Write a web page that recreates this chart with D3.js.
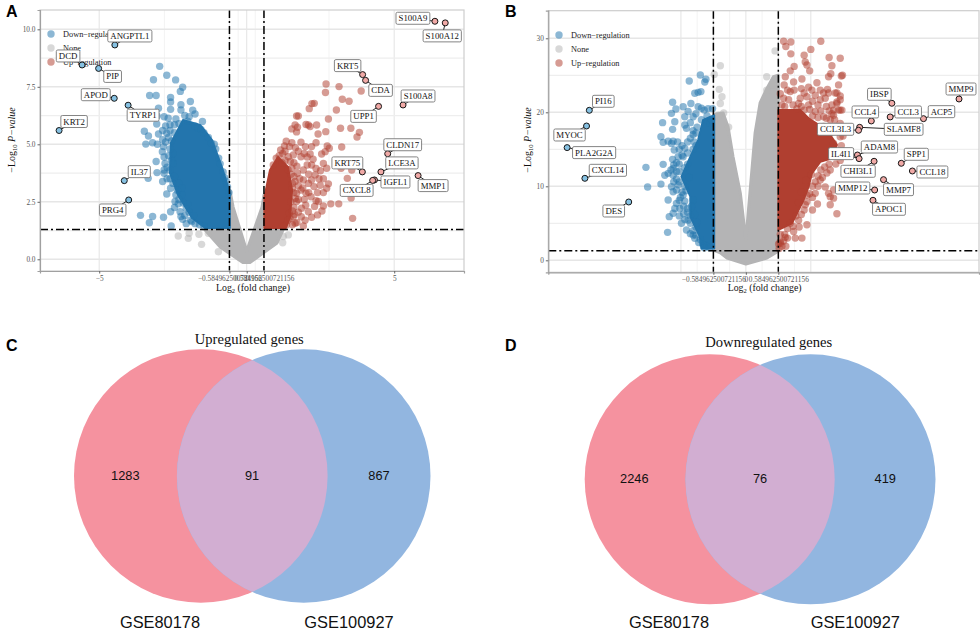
<!DOCTYPE html>
<html>

<head>
    <title>Volcano and Venn</title>
    <script src="https://cdn.jsdelivr.net/npm/d3@7"></script>
    <style>
        body { margin: 0; background: #fff; }
        svg { display: block; }
    </style>
</head>

<body>
    <svg width="980" height="630" id="mainsvg"></svg>
    <script>
        // panel A: [log2 fold change, -log10 p]
        const aDown = [[-2.95,8.39],[-3.16,7.81],[-2.71,8.0],[-2.41,7.8],[-2.17,7.48],[-2.25,7.3],[-3.29,7.12],[-3.07,7.12],[-2.58,7.04],[-2.58,6.84],[-1.91,6.86],[-2.23,6.72],[-2.58,6.52],[-2.23,6.49],[-1.83,6.48],[-1.75,6.32],[-2.99,6.57],[-3.04,6.23],[-2.8,6.2],[-2.66,6.13],[-3.05,5.88],[-2.75,5.8],[-1.5,5.99],[-3.47,5.57],[-3.33,5.36],[-2.99,5.45],[-2.71,5.48],[-3.42,5.01],[-3.19,5.07],[-3.03,5.0],[-2.82,4.9],[-2.86,4.68],[-3.07,4.25],[-2.77,4.17],[-3.04,3.77],[-2.8,3.88],[-2.8,3.74],[-3.34,3.52],[-2.85,3.38],[-2.6,3.88],[-2.49,4.17],[-2.58,3.09],[-2.71,2.84],[-2.43,2.51],[-2.2,2.8],[-2.32,2.41],[-3.6,1.91],[-3.19,1.86],[-3.3,1.59],[-2.82,1.83],[-2.58,2.07],[-2.56,1.45],[-2.23,1.86],[-2.17,1.74],[-1.86,1.64],[-2.26,2.07],[-2.3,5.9],[-2.0,6.0],[-1.75,5.8],[-1.45,5.5],[-1.3,5.3],[-1.05,4.8],[-0.95,4.4],[-0.8,3.8],[-0.7,3.4],[-2.6,5.6],[-2.75,5.1],[-2.65,4.5],[-2.7,4.0],[-2.5,3.3],[-2.3,2.6],[-2.05,2.2],[-1.9,1.7],[-1.6,1.5]];
        const aDownFringe = [[-2.85,5.6],[-2.6,5.85],[-2.45,5.85],[-2.45,5.5],[-2.65,5.3],[-2.85,5.2],[-2.8,4.45],[-2.6,4.8],[-2.7,3.5],[-2.6,3.5],[-2.35,3.0],[-2.4,2.8],[-2.45,2.25],[-2.1,1.9],[-2.0,2.4],[-2.05,1.55],[-1.75,1.55],[-1.45,1.45],[-2.4,6.1],[-2.1,6.25],[-1.95,6.2],[-1.65,5.7],[-1.55,5.65],[-1.2,5.05],[-1.1,5.0],[-2.55,5.15],[-2.5,4.6],[-2.55,4.3],[-2.45,3.6],[-2.3,3.3],[-2.2,3.1],[-2.15,2.45],[-1.95,2.05],[-1.8,1.9],[-0.9,4.15],[-0.75,3.55],[-0.65,3.15],[-0.6,2.9]];
        const aUp = [[2.69,7.62],[2.67,7.25],[3.13,7.51],[3.88,7.32],[3.24,6.96],[3.47,6.87],[2.29,6.78],[2.21,6.77],[2.12,6.55],[3.04,6.49],[1.75,6.23],[1.69,6.23],[2.77,6.1],[2.09,5.84],[2.01,5.86],[2.37,5.84],[1.64,5.84],[1.53,5.67],[1.72,5.74],[1.69,5.54],[2.15,5.77],[2.68,5.55],[2.42,5.45],[3.18,5.7],[3.53,5.7],[3.82,5.52],[3.74,5.32],[1.34,5.13],[1.28,4.93],[1.53,5.07],[1.45,4.9],[1.84,5.09],[2.35,5.07],[2.2,4.9],[1.99,4.9],[2.73,4.93],[2.8,4.83],[3.22,4.88],[2.15,4.58],[2.54,4.58],[2.66,4.68],[1.84,4.46],[1.58,4.54],[1.41,4.46],[2.6,4.17],[2.2,4.1],[1.92,3.88],[2.71,3.96],[3.2,3.96],[3.56,3.88],[1.72,3.74],[2.32,3.67],[3.41,3.52],[1.92,3.45],[2.49,3.22],[2.77,3.28],[2.28,3.16],[2.09,3.3],[2.71,3.09],[3.54,2.67],[1.84,3.01],[2.01,2.87],[2.43,2.51],[2.85,2.41],[3.12,2.41],[2.6,2.32],[1.69,2.51],[1.86,2.22],[2.09,2.07],[2.2,1.83],[2.4,1.93],[1.58,1.86],[3.59,1.78],[1.92,1.45],[1.64,1.57],[1.47,1.78],[2.18,2.72],[1.69,2.87],[1.64,3.38],[1.53,3.96],[0.9,4.1],[1.1,4.5],[1.3,4.3],[1.5,3.7],[1.55,3.1],[1.5,2.5],[1.45,2.0],[1.35,1.5]];
        const aUpFringe = [[1.6,4.2],[1.7,4.05],[1.8,3.5],[1.55,3.3],[1.75,3.2],[1.9,3.1],[1.6,2.9],[2.1,2.9],[1.75,2.6],[1.95,2.6],[1.6,2.25],[1.75,2.05],[1.85,1.85],[1.98,1.7],[1.62,1.95],[1.7,1.6],[1.55,1.5],[1.48,4.25],[1.65,4.85],[1.75,4.7],[1.95,4.6],[2.05,4.45],[2.05,4.1],[2.25,4.35],[2.35,3.95],[2.5,3.85],[2.1,3.7],[2.2,3.45],[2.45,3.5],[2.6,3.5],[2.4,2.9],[2.6,2.9],[2.3,2.3],[2.0,2.35],[2.35,2.55],[1.3,4.7],[1.15,4.75],[1.22,4.6],[1.0,4.4],[2.55,2.1],[1.2,4.2],[1.4,3.9],[1.6,3.6],[1.65,2.65],[1.55,2.1],[1.4,1.7],[1.25,1.45]];
        const aNone = [[-2.32,1.01],[-1.98,0.91],[-1.95,1.13],[-1.53,0.65],[-1.62,1.09],[-0.96,0.33],[-1.3,1.13],[1.41,1.06],[1.22,0.72],[1.24,0.99]];
        // dense cores of panel A, outlines
        const aDownCore = [[-2.16,6.06],[-1.58,5.84],[-1.18,5.19],[-0.84,4.01],[-0.57,2.88],[-0.57,1.36],[-1.41,1.36],[-1.85,1.8],[-2.33,2.8],[-2.6,3.75],[-2.57,5.06]];
        const aUpCore = [[0.6,2.71],[0.79,3.88],[1.06,4.45],[1.4,4.01],[1.54,3.01],[1.47,1.84],[1.33,1.36],[0.6,1.36]];
        const aNoneCore = [[-0.57,3.0],[-0.46,2.27],[0,0.36],[0.52,2.27],[0.585,2.8],[0.585,1.3],[1.23,1.27],[1.03,0.71],[0.11,-0.14],[-0.13,-0.14],[-0.9,0.53],[-1.41,1.27]];
        const aGenes = ['ANGPTL1','DCD','PIP','APOD','TYRP1','KRT2','IL37','PRG4','S100A9','S100A12','KRT5','CDA','S100A8','UPP1','CLDN17','LCE3A','KRT75','MMP1','IGFL1','CXCL8'];
        const aGeneFc = [-4.47,-5.58,-5.02,-4.49,-4.02,-6.36,-4.15,-4.0,6.38,6.73,3.93,4.03,5.3,4.47,4.78,4.55,3.92,5.81,4.33,4.27];
        const aGeneP = [9.32,8.45,8.3,7.0,6.7,5.6,3.42,2.58,10.35,10.28,8.03,7.78,6.71,6.65,4.59,3.8,3.8,3.64,3.45,3.43];
        const aXTicks = [-5,-0.584962500721156,0,0.584962500721156,5];
        const aYTicks = [0,2.5,5,7.5,10];

        // panel B
        const bDown = [[-0.82,25.05],[-1.02,24.23],[-0.72,24.47],[-0.74,24.1],[-0.92,22.57],[-0.86,22.7],[-0.81,22.8],[-1.32,21.35],[-1.13,20.76],[-1.26,20.45],[-0.99,21.2],[-1.34,19.86],[-0.86,20.76],[-0.8,20.54],[-1.04,20.1],[-1.1,19.4],[-0.95,19.4],[-1.5,18.6],[-1.28,18.73],[-1.32,17.7],[-1.1,18.28],[-1.07,17.83],[-1.53,16.7],[-1.49,15.94],[-1.4,16.1],[-1.31,16.1],[-1.23,16.0],[-1.34,15.8],[-1.29,14.9],[-1.1,15.13],[-1.13,14.0],[-1.32,13.64],[-1.22,14],[-1.49,12.97],[-1.31,12.43],[-1.8,12.56],[-1.4,11.75],[-1.46,11.5],[-1.31,11.5],[-1.53,10.3],[-1.77,9.9],[-1.34,9.95],[-1.31,9.27],[-1.4,8.15],[-1.13,8.82],[-1.25,7.7],[-1.28,7.0],[-1.19,7.0],[-1.31,6.35],[-1.38,5.9],[-1.16,5.0],[-1.04,5.44],[-1.07,4.1],[-1.41,3.78],[-0.95,3.42],[-0.92,2.97],[-0.74,2.07],[-0.95,17.5],[-0.9,15.5],[-1.05,13],[-1.2,12],[-1.1,10],[-1.15,9.2],[-1.05,7],[-1.0,6],[-0.9,4.5],[-0.82,2.8]];
        const bDownFringe = [[-0.7,19.5],[-0.75,20.3],[-0.65,18.5],[-0.8,19],[-0.88,18],[-0.95,17],[-1.0,16.5],[-1.05,16],[-1.15,15.5],[-1.2,15],[-0.95,15],[-1.05,14.5],[-1.15,14.2],[-1.25,13.2],[-1.2,13],[-1.1,12.5],[-1.3,12.9],[-1.25,12],[-1.35,12.2],[-1.25,11],[-1.2,10.6],[-1.22,10.2],[-1.3,10.6],[-1.25,9.5],[-1.18,8.5],[-1.1,8],[-1.2,8.1],[-1.12,7.3],[-1.05,6.5],[-1.12,6.3],[-1.2,6],[-1.1,5.5],[-1.0,5],[-0.95,4],[-1.0,3.6],[-0.9,3.4],[-0.85,2.4],[-0.78,2.2],[-0.7,1.9],[-0.75,1.7],[-0.65,1.7],[-0.62,19.0],[-0.6,20.5],[-0.68,20.5],[-0.9,19.8],[-1.0,18.6],[-0.9,17.2],[-0.93,16],[-1.02,11.2],[-1.08,9.4],[-0.95,8.2],[-0.98,7.3],[-0.92,6.2],[-0.88,5.1]];
        const bUp = [[0.68,29.6],[0.81,29.5],[1.35,29.6],[0.72,28.9],[0.81,27.9],[1.17,28.5],[1.5,27.4],[1.7,27.3],[1.05,27.7],[1.07,26.8],[1.1,26.4],[0.87,26.2],[0.8,25.6],[1.15,25.6],[1.55,26.3],[1.53,25.2],[1.49,24.8],[1.72,24.9],[0.86,24.1],[1.01,24.5],[0.71,24.8],[0.69,23.7],[0.87,23],[1.13,23.4],[1.19,23],[1.34,23],[1.47,23.1],[1.67,23.7],[1.4,22.6],[1.61,22.6],[1.7,22.2],[1.13,21],[1.25,20.1],[1.43,21.9],[1.55,21],[1.67,20.3],[1.73,20.3],[1.64,21.4],[0.98,21.9],[0.8,22.8],[0.68,21.9],[0.92,20.5],[0.65,21],[0.77,21.7],[1.1,22.1],[1.34,21.7],[1.49,22.6],[1.58,15.8],[1.52,17.2],[1.4,18.1],[1.52,12.2],[1.46,11.8],[1.49,9.05],[1.58,8.4],[1.52,7.5],[1.64,6.3],[1.29,7.6],[1.2,6.8],[1.43,9.9],[1.25,9.05],[1.34,10.85],[1.1,7.9],[1.07,7.5],[0.95,5.4],[1.1,4.8],[0.96,4.5],[0.86,3.9],[0.71,3.1],[1.01,3],[0.8,5],[0.89,3],[0.59,2.2],[0.62,2.3],[1.64,17.6],[1.7,16.7],[1.52,8.6],[1.58,9.5],[1.74,25.0],[1.64,22.6],[1.7,21.7],[1.64,21.2],[1.7,20.3],[1.58,20.3],[1.58,19.6],[1.4,19.4],[1.52,19],[0.62,3.5],[0.7,3.5],[0.75,4.3],[0.62,2.5],[0.68,2.6],[0.6,1.6],[0.72,1.9]];
        const bUpFringe = [[0.62,22.5],[0.75,23],[0.7,20.8],[0.85,21],[0.95,21.2],[1.0,20.8],[1.05,20.3],[1.2,21.5],[1.25,22.3],[1.3,21],[1.35,20.2],[1.45,20.8],[1.5,20.2],[1.6,19],[1.45,19.2],[1.3,19.3],[1.2,19.5],[1.7,18.5],[1.65,18],[1.75,16.8],[1.72,15.5],[1.68,14.5],[1.6,14],[1.7,13.5],[1.62,13],[1.5,13],[1.42,12.6],[1.35,12.2],[1.3,11.4],[1.38,11.2],[1.25,10.6],[1.2,10],[1.3,10],[1.15,9],[1.2,8.5],[1.1,8.8],[1.05,6.8],[1,6.2],[0.9,6],[0.85,4.6],[0.75,3],[0.65,1.9],[1.0,23.2],[1.28,24],[1.05,22.6],[1.55,19.8],[1.15,20.4],[0.95,7.8],[1.0,9.2],[1.08,10.8],[1.18,11.6]];
        const bNone = [[-0.46,26.3],[-0.57,25.1],[-0.48,23.1],[-0.43,22.1],[-0.46,21.2],[-0.4,19.9],[-0.49,19.6],[-0.31,18],[0.526,28.3],[0.376,24.8],[0.49,23.7],[0.376,23]];
        const bDownCore = [[-0.57,19.6],[-0.77,18.97],[-0.86,16.25],[-1.0,14.0],[-1.16,11.3],[-1.0,8.6],[-1.0,5.9],[-0.83,3.2],[-0.8,1.6],[-0.57,1.6]];
        const bUpCore = [[0.586,20.3],[0.98,20.3],[1.13,19.2],[1.46,17.6],[1.64,15.6],[1.55,13.8],[1.34,13.3],[1.19,11.75],[1.13,9.95],[1.04,8.15],[0.95,6.8],[0.83,5],[0.586,4.1]];
        const bNoneCore = [[-0.58,19.7],[-0.41,19.9],[-0.32,18.0],[-0.23,13.96],[-0.1,9.1],[0,2.74],[0.166,17.2],[0.256,21.26],[0.377,23.2],[0.495,24.8],[0.585,25],[0.585,1.4],[0.56,1.12],[0.38,0.31],[0,-0.5],[-0.34,0.31],[-0.46,1],[-0.58,1.39]];
        const bGenes = ['PI16','MYOC','PLA2G2A','CXCL14','DES','MMP9','IBSP','CCL3','ACP5','CCL4','SLAMF8','CCL3L3','ADAM8','IL4I1','SPP1','CHI3L1','CCL18','MMP7','MMP12','APOC1'];
        const bGeneFc = [-2.82,-2.87,-3.22,-2.9,-2.11,3.84,2.63,2.6,3.2,2.26,2.05,2.03,2.01,2.04,2.8,2.31,3.0,2.48,2.32,2.29];
        const bGeneP = [20.27,18.15,15.23,11.08,7.88,21.8,21.22,19.37,19.14,18.83,17.97,17.57,14.23,13.74,13.11,13.38,12.07,10.9,9.5,8.11];
        const bXTicks = [-0.584962500721156,0,0.584962500721156];
        const bYTicks = [0,10,20,30];

        const legendItems = ['Down\u2212regulation','None','Up\u2212regulation'];
        const pCut = 1.3;
        const fcCut = 0.584962500721156;

        // venn counts: left only, both, right only
        const vennC = [1283,91,867];
        const vennD = [2246,76,419];
        const vennSets = ['GSE80178','GSE100927'];

        // label offsets from the point, in px (layout only)
        const aNudge = [[15,-9],[-14,-9],[14,8],[-18.5,-3.6],[15,10],[15,-9],[15,-9],[-16,10],[-22,-3],[-3,13],[-15,-9],[15,10],[15,-9],[-15,10],[15,-9],[21,-9],[-15,-9],[15,10],[21,2],[-16,10]];
        const bNudge = [[14,-9],[-17,9],[27,5],[23,-8],[-15,9],[2,-10],[-12.5,-9],[18,-5],[18,-7],[-6,-9],[44,2],[-23,-1],[22,-8],[-18,-5],[15,-9],[-16,10],[20,1],[15,10],[-22,-2],[16,9]];

        const serif = '"Liberation Serif", serif';
        const sans = '"Liberation Sans", sans-serif';
        const colors = { down: '#2375ad', none: '#b4b4b5', up: '#b03f30' };
        const soft = { down: '#86c1e2', up: '#f0a9a6' };
        const svg = d3.select('svg');

        function drawVolcano(o) {
            const g = svg.append('g');
            const x = d3.scaleLinear().domain(o.xDomain).range([o.box.left, o.box.right]);
            const y = d3.scaleLinear().domain(o.yDomain).range([o.box.bottom, o.box.top]);
            const { left, right, top, bottom } = o.box;

            g.selectAll('.minorx').data(o.xMinor).join('line').attr('x1', x).attr('x2', x)
                .attr('y1', top).attr('y2', bottom).attr('stroke', '#eeeeee').attr('stroke-width', 0.7);
            g.selectAll('.majorx').data(o.xMajor).join('line').attr('x1', x).attr('x2', x)
                .attr('y1', top).attr('y2', bottom).attr('stroke', '#e6e6e6').attr('stroke-width', 1.1);
            g.selectAll('.minory').data(o.yMinor).join('line').attr('y1', y).attr('y2', y)
                .attr('x1', left).attr('x2', right).attr('stroke', '#eeeeee').attr('stroke-width', 1.2);
            g.selectAll('.majory').data(o.yTicks).join('line').attr('y1', y).attr('y2', y)
                .attr('x1', left).attr('x2', right).attr('stroke', '#e6e6e6').attr('stroke-width', 1.4);

            const blob = d3.line().x(d => x(d[0])).y(d => y(d[1])).curve(d3.curveLinearClosed);
            const scatter = (pts, c) => g.append('g').selectAll('circle').data(pts).join('circle')
                .attr('cx', d => x(d[0])).attr('cy', d => y(d[1])).attr('r', o.r)
                .attr('fill', c).attr('opacity', 0.52);

            g.append('path').attr('d', blob(o.noneCore)).attr('fill', colors.none)
                .attr('stroke', colors.none).attr('stroke-width', 3).attr('stroke-linejoin', 'round');
            scatter(o.none, colors.none);
            g.append('path').attr('d', blob(o.downCore)).attr('fill', colors.down)
                .attr('stroke', colors.down).attr('stroke-width', 2).attr('stroke-linejoin', 'round');
            scatter(o.down, colors.down);
            g.append('path').attr('d', blob(o.upCore)).attr('fill', colors.up)
                .attr('stroke', colors.up).attr('stroke-width', 2).attr('stroke-linejoin', 'round');
            scatter(o.up, colors.up);

            // threshold lines
            const dash = '8 3 2 3';
            g.append('line').attr('x1', left).attr('x2', right).attr('y1', y(pCut)).attr('y2', y(pCut))
                .attr('stroke', '#000').attr('stroke-width', 1.5).attr('stroke-dasharray', dash);
            [-fcCut, fcCut].forEach(v => g.append('line').attr('x1', x(v)).attr('x2', x(v))
                .attr('y1', top).attr('y2', bottom)
                .attr('stroke', '#000').attr('stroke-width', 1.5).attr('stroke-dasharray', dash));

            // frame and axes
            g.append('rect').attr('x', left).attr('y', top).attr('width', right - left).attr('height', bottom - top)
                .attr('fill', 'none').attr('stroke', '#cdcdcd').attr('stroke-width', 1.2);
            const fmt = d => String(d).replace('-', '\u2212');
            const xAxis = g.append('g').attr('transform', `translate(0,${bottom})`)
                .call(d3.axisBottom(x).tickValues(o.xTicks).tickFormat(fmt).tickSize(2.5).tickPadding(2));
            const yAxis = g.append('g').attr('transform', `translate(${left},0)`)
                .call(d3.axisLeft(y).tickValues(o.yTicks).tickFormat(o.yFormat).tickSize(2.5).tickPadding(2));
            [xAxis, yAxis].forEach(a => {
                a.selectAll('text').attr('font-family', serif).attr('font-size', 7.3).attr('fill', '#555');
                a.selectAll('line').attr('stroke', '#666');
                a.select('.domain').attr('stroke', '#a0a0a0').attr('stroke-width', 1.2);
            });
            const cx = (left + right) / 2;
            const xt = g.append('text').attr('x', cx + 1).attr('y', 290.5).attr('text-anchor', 'middle')
                .attr('font-family', serif).attr('font-size', 9.8).attr('fill', '#111');
            xt.append('tspan').text('Log');
            xt.append('tspan').text('2').attr('font-size', 6.5).attr('dy', 2);
            xt.append('tspan').text(' (fold change)').attr('dy', -2);
            const yt = g.append('text').attr('transform', `translate(${o.yTitleX},140) rotate(-90)`).attr('text-anchor', 'middle')
                .attr('font-family', serif).attr('font-size', 10).attr('fill', '#111');
            yt.append('tspan').text('\u2212Log');
            yt.append('tspan').text('10').attr('font-size', 6.5).attr('dy', 2);
            yt.append('tspan').text(' P\u2212value').attr('dy', -2).attr('font-style', 'italic');

            // legend
            legendItems.forEach((t, i) => {
                const c = [colors.down, colors.none, colors.up][i];
                const ly = o.legend.y + i * 14;
                g.append('circle').attr('cx', o.legend.x).attr('cy', ly).attr('r', o.r).attr('fill', c).attr('opacity', 0.52);
                g.append('text').attr('x', o.legend.x + 12).attr('y', ly + 2.5).text(t)
                    .attr('font-family', serif).attr('font-size', 8.3).attr('fill', '#222');
            });

            // labelled genes
            const genes = o.genes.map((name, i) => ({
                name, px: x(o.fc[i]), py: y(o.p[i]), up: o.fc[i] > 0,
                lx: x(o.fc[i]) + o.nudge[i][0], ly: y(o.p[i]) + o.nudge[i][1]
            }));
            g.append('g').selectAll('line').data(genes).join('line')
                .attr('x1', d => d.px).attr('y1', d => d.py).attr('x2', d => d.lx).attr('y2', d => d.ly)
                .attr('stroke', '#111').attr('stroke-width', 0.9);
            g.append('g').selectAll('circle').data(genes).join('circle')
                .attr('cx', d => d.px).attr('cy', d => d.py).attr('r', 3)
                .attr('fill', d => d.up ? soft.up : soft.down).attr('stroke', '#161616').attr('stroke-width', 1);
            genes.forEach(d => {
                const lab = g.append('g').attr('transform', `translate(${d.lx},${d.ly})`);
                const box = lab.append('rect');
                const t = lab.append('text').text(d.name).attr('text-anchor', 'middle').attr('y', 3)
                    .attr('font-family', serif).attr('font-size', 8.8).attr('fill', '#111');
                const w = t.node().getComputedTextLength() + 5;
                box.attr('x', -w / 2).attr('y', -6).attr('width', w).attr('height', 12).attr('rx', 1.5)
                    .attr('fill', '#fff').attr('stroke', '#777').attr('stroke-width', 0.9);
            });
        }

        function drawVenn(o) {
            const g = svg.append('g');
            const id = o.id;
            g.append('clipPath').attr('id', id).append('circle').attr('cx', o.cx[0]).attr('cy', o.cy).attr('r', o.r);
            g.append('circle').attr('cx', o.cx[0]).attr('cy', o.cy).attr('r', o.r).attr('fill', '#f5929f');
            g.append('circle').attr('cx', o.cx[1]).attr('cy', o.cy).attr('r', o.r).attr('fill', '#92b6e0');
            g.append('circle').attr('cx', o.cx[1]).attr('cy', o.cy).attr('r', o.r).attr('fill', '#d2aed2')
                .attr('clip-path', `url(#${id})`);
            g.selectAll('.count').data(o.counts).join('text').text(d => d)
                .attr('x', (d, i) => o.countX[i]).attr('y', o.cy + 4).attr('text-anchor', 'middle')
                .attr('font-family', sans).attr('font-size', 12.8).attr('fill', '#111');
            g.append('text').text(o.title).attr('x', o.titleX).attr('y', o.titleY).attr('text-anchor', 'middle')
                .attr('font-family', serif).attr('font-size', 14.6).attr('fill', '#111');
            g.selectAll('.set').data(vennSets).join('text').text(d => d)
                .attr('x', (d, i) => o.setX[i]).attr('y', 628).attr('text-anchor', 'middle')
                .attr('font-family', sans).attr('font-size', 16.4).attr('fill', '#111');
        }

        drawVolcano({
            box: { left: 40, right: 464, top: 10, bottom: 271 },
            xDomain: [-7.007, 7.366], yDomain: [-0.509, 10.84], r: 3.7,
            xTicks: aXTicks, yTicks: aYTicks, yFormat: d3.format('.1f'),
            xMajor: aXTicks, xMinor: [-2.79, -0.29, 0.29, 2.79], yMinor: [1.25, 3.75, 6.25, 8.75],
            none: aNone, down: aDown.concat(aDownFringe), up: aUp.concat(aUpFringe),
            noneCore: aNoneCore, downCore: aDownCore, upCore: aUpCore,
            genes: aGenes, fc: aGeneFc, p: aGeneP, nudge: aNudge,
            legend: { x: 51, y: 34 }, yTitleX: 15
        });
        drawVolcano({
            box: { left: 548.3, right: 979, top: 10.7, bottom: 272.3 },
            xDomain: [-3.559, 4.2], yDomain: [-1.62, 33.73], r: 3.7,
            xTicks: bXTicks, yTicks: bYTicks, yFormat: d3.format('d'),
            xMajor: [-1.17, -0.585, 0, 0.585, 1.17], xMinor: [-0.8775, -0.2925, 0.2925, 0.8775], yMinor: [5, 15, 25],
            none: bNone, down: bDown.concat(bDownFringe), up: bUp.concat(bUpFringe),
            noneCore: bNoneCore, downCore: bDownCore, upCore: bUpCore,
            genes: bGenes, fc: bGeneFc, p: bGeneP, nudge: bNudge,
            legend: { x: 559, y: 35 }, yTitleX: 531
        });
        drawVenn({
            id: 'lensC', cx: [200.8, 303.7], cy: 476, r: 126.8, counts: vennC, countX: [125.3, 252, 379],
            title: 'Upregulated genes', titleX: 249.3, titleY: 343.5, setX: [160, 349]
        });
        drawVenn({
            id: 'lensD', cx: [709.7, 810.5], cy: 479.3, r: 125, counts: vennD, countX: [634.3, 760, 885.3],
            title: 'Downregulated genes', titleX: 768.7, titleY: 346.5, setX: [669, 855.3]
        });

        // panel letters
        svg.selectAll('.letter').data(['A', 'B', 'C', 'D']).join('text').text(d => d)
            .attr('x', (d, i) => i % 2 ? 505 : 6).attr('y', (d, i) => i < 2 ? 17 : 350.5)
            .attr('font-family', sans).attr('font-weight', 'bold').attr('font-size', 16).attr('fill', '#000');
    </script>
</body>

</html>
